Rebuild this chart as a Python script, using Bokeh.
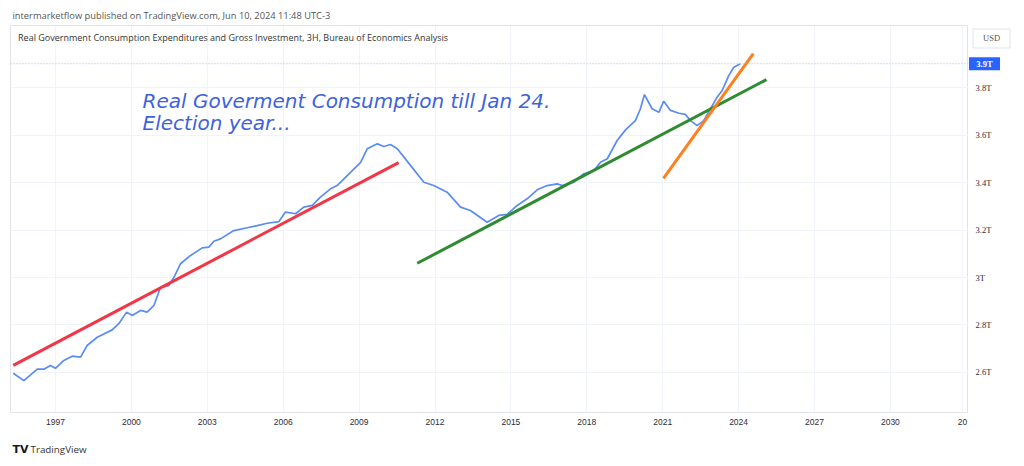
from bokeh.plotting import figure
from bokeh.layouts import row, column
from bokeh.models import Range1d, FixedTicker, Label, Span, Title
from bokeh.embed import file_html
from bokeh.resources import INLINE

# ---- data (decimal year, trillions USD) ----
years = [1995.33, 1995.75, 1996.28, 1996.54, 1996.80, 1997.00, 1997.33, 1997.66, 1997.99,
         1998.25, 1998.65, 1999.24, 1999.50, 1999.81, 2000.03, 2000.36, 2000.62, 2000.89,
         2001.15, 2001.48, 2001.68, 2001.94, 2002.34, 2002.80, 2003.06, 2003.26, 2003.52,
         2004.05, 2004.58, 2004.97, 2005.37, 2005.83, 2006.09, 2006.49, 2006.81, 2007.15,
         2007.47, 2007.87, 2008.13, 2008.66, 2009.06, 2009.32, 2009.72, 2009.98, 2010.24,
         2010.51, 2011.03, 2011.56, 2011.95, 2012.48, 2013.01, 2013.40, 2014.06, 2014.52,
         2014.85, 2015.25, 2015.64, 2016.04, 2016.43, 2016.83, 2017.03, 2017.49, 2017.88,
         2018.28, 2018.54, 2018.81, 2019.20, 2019.53, 2019.92, 2020.12, 2020.28, 2020.58,
         2020.85, 2021.04, 2021.31, 2021.64, 2021.90, 2022.10, 2022.36, 2022.62, 2022.89,
         2023.15, 2023.35, 2023.61, 2023.81, 2024.07]
values = [2.596, 2.565, 2.613, 2.613, 2.629, 2.617, 2.650, 2.668, 2.664,
          2.713, 2.748, 2.779, 2.805, 2.854, 2.840, 2.861, 2.854, 2.882,
          2.959, 2.966, 3.001, 3.058, 3.093, 3.125, 3.128, 3.153, 3.163,
          3.198, 3.210, 3.219, 3.229, 3.236, 3.276, 3.269, 3.297, 3.304,
          3.339, 3.374, 3.388, 3.444, 3.486, 3.543, 3.564, 3.553, 3.561,
          3.543, 3.473, 3.402, 3.388, 3.360, 3.297, 3.283, 3.233, 3.262,
          3.266, 3.304, 3.332, 3.370, 3.388, 3.395, 3.388, 3.402, 3.438,
          3.451, 3.486, 3.501, 3.578, 3.623, 3.662, 3.712, 3.772, 3.712,
          3.697, 3.744, 3.705, 3.693, 3.688, 3.662, 3.641, 3.662, 3.712,
          3.761, 3.789, 3.852, 3.887, 3.902]

red_x = [1995.33, 2010.56]
red_y = [2.629, 3.485]
green_x = [2011.30, 2025.10]
green_y = [3.060, 3.835]
orange_x = [2021.03, 2024.58]
orange_y = [3.418, 3.945]

x_ticks = [1997, 2000, 2003, 2006, 2009, 2012, 2015, 2018, 2021, 2024, 2027, 2030, 2032.85]
x_labels = ["1997", "2000", "2003", "2006", "2009", "2012", "2015", "2018", "2021",
            "2024", "2027", "2030", "20"]
y_ticks = [2.6, 2.8, 3.0, 3.2, 3.4, 3.6, 3.8]
y_labels = ["2.6T", "2.8T", "3T", "3.2T", "3.4T", "3.6T", "3.8T"]

last_value = values[-1]
last_label = "3.9T"
currency = "USD"

MAIN_H = 435
TOP, BOTTOM = 25, 23
PW, SW = 968, 44

yr = Range1d(2.4304, 4.0633)

# ---------------- main chart ----------------
p = figure(width=PW, height=MAIN_H, output_backend="svg", toolbar_location=None,
           x_range=Range1d(1995.221, 2033.087), y_range=yr,
           y_axis_location="right",
           min_border_left=10, min_border_right=0, min_border_top=TOP, min_border_bottom=BOTTOM)
p.background_fill_color = "white"
p.border_fill_color = "white"
p.outline_line_color = "#e0e3eb"

p.xaxis.ticker = FixedTicker(ticks=x_ticks)
p.xaxis.major_label_overrides = {t: l for t, l in zip(x_ticks, x_labels)}
p.xaxis.major_tick_line_color = None
p.xaxis.minor_tick_line_color = None
p.xaxis.major_tick_out = 0
p.xaxis.major_tick_in = 0
p.xaxis.major_label_text_font = "Liberation Sans"
p.xaxis.major_label_text_font_size = "8.5px"
p.xaxis.major_label_text_color = "#2a2e39"
p.xaxis.axis_line_color = None
p.xaxis.major_label_standoff = 6
p.yaxis.visible = False
p.ygrid.ticker = FixedTicker(ticks=y_ticks)
p.xgrid.grid_line_color = "#f0f3fa"
p.ygrid.grid_line_color = "#f0f3fa"

# header
p.add_layout(Title(text="intermarketflow published on TradingView.com, Jun 10, 2024 11:48 UTC-3",
                   align="left", vertical_align="top", offset=2, standoff=4,
                   text_font="Open Sans", text_font_size="9.3px", text_font_style="normal",
                   text_color="#555555"), "above")

# last value dotted line
p.add_layout(Span(location=last_value, dimension="width", line_color="#9db7f7",
                  line_dash="1 2", line_width=1))

p.line(years, values, line_color="#5a8cf5", line_width=1.7)
p.line(red_x, red_y, line_color="#f23645", line_width=3)
p.line(green_x, green_y, line_color="#2e8b32", line_width=3)
p.line(orange_x, orange_y, line_color="#ff7f1e", line_width=3)

# annotation text
p.add_layout(Label(x=2000.44, y=3.743, text="Real Goverment Consumption till Jan 24.",
                   text_font="DejaVu Sans", text_font_style="italic", text_font_size="20px",
                   text_color="#3d63dd", text_baseline="middle"))
p.add_layout(Label(x=2000.44, y=3.650, text="Election year...",
                   text_font="DejaVu Sans", text_font_style="italic", text_font_size="20px",
                   text_color="#3d63dd", text_baseline="middle"))

p.add_layout(Label(x=1995.52, y=4.013,
                   text="Real Government Consumption Expenditures and Gross Investment, 3H, Bureau of Economics Analysis",
                   text_font="Open Sans", text_font_size="9px", text_color="#333333",
                   text_baseline="middle"))

# ---------------- price scale ----------------
s = figure(width=SW, height=MAIN_H, output_backend="svg", toolbar_location=None,
           x_range=Range1d(0, 1), y_range=yr,
           min_border_left=0, min_border_right=0, min_border_top=TOP, min_border_bottom=BOTTOM)
s.axis.visible = False
s.grid.visible = False
s.outline_line_color = None
s.background_fill_color = "white"
s.border_fill_color = "white"

s.text(x=[0.16] * len(y_ticks), y=y_ticks, text=y_labels, text_font_size="8.5px",
       text_color="#2a2e39", text_baseline="middle", text_align="left",
       text_font="Liberation Sans")
s.rect(x=[0.364], y=[last_value], width=31, height=13, width_units="screen",
       height_units="screen", fill_color="#2962ff", line_color=None)
s.text(x=[0.364], y=[last_value], text=[last_label], text_font_size="8.5px",
       text_font_style="bold", text_color="white", text_baseline="middle",
       text_align="center", text_font="Liberation Sans")
s.rect(x=[0.523], y=[4.0085], width=37, height=19, width_units="screen",
       height_units="screen", fill_color="white", line_color="#e0e3eb")
s.text(x=[0.523], y=[4.0085], text=[currency], text_font_size="8.5px",
       text_color="#555555", text_baseline="middle", text_align="center",
       text_font="Liberation Sans")

# ---------------- footer ----------------
f = figure(width=PW + SW, height=25, output_backend="svg", toolbar_location=None,
           x_range=Range1d(0, PW + SW), y_range=Range1d(25, 0),
           min_border_left=0, min_border_right=0, min_border_top=0, min_border_bottom=0)
f.axis.visible = False
f.grid.visible = False
f.outline_line_color = None
f.background_fill_color = "white"
f.border_fill_color = "white"
f.add_layout(Label(x=12, y=14, text="TV", text_font="DejaVu Sans", text_font_size="11px",
                   text_font_style="bold", text_color="#131722", text_baseline="middle"))
f.add_layout(Label(x=30, y=14, text="TradingView", text_font="Open Sans",
                   text_font_size="9.8px", text_color="#333333", text_baseline="middle"))

layout = column(row(p, s, spacing=0), f, spacing=0)
open("out.html", "w").write(file_html(layout, INLINE))
